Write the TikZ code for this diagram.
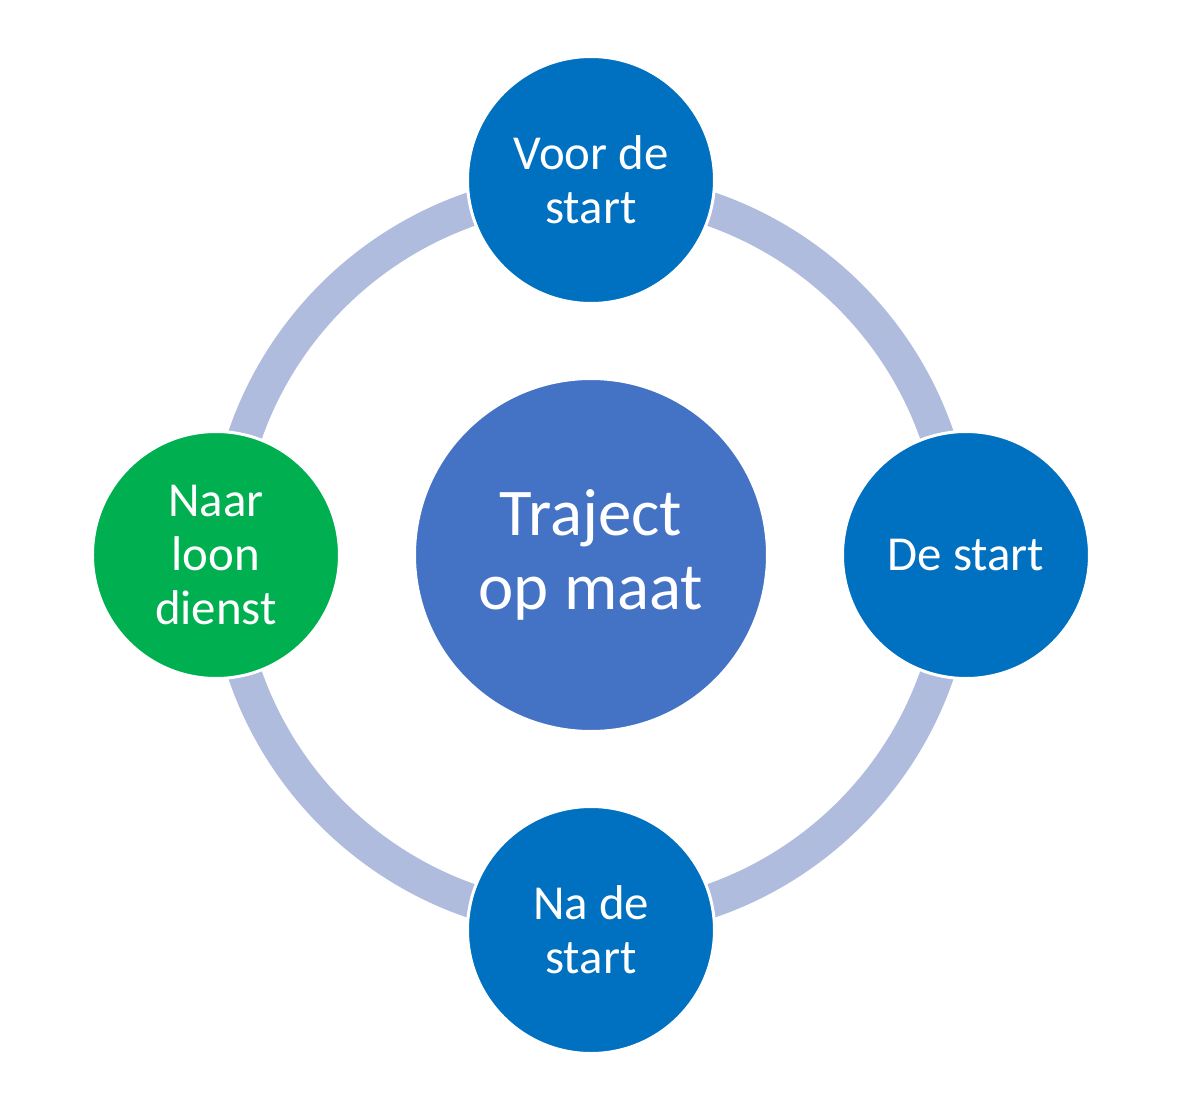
\documentclass[tikz,border=0pt]{standalone}
\usepackage{fontspec}
\setmainfont{Carlito}
\usepackage{tikz}
\definecolor{PhaseBlue}{HTML}{0070C0}
\definecolor{HubBlue}{HTML}{4472C4}
\definecolor{PhaseGreen}{HTML}{00B050}
\definecolor{RingBlue}{HTML}{B0BCDE}
\tikzset{
  ring/.style={draw=RingBlue, line width=0.68cm},
  phase/.style={circle, fill=PhaseBlue, draw=white, line width=0.06cm, minimum size=4.94cm, inner sep=0pt,
    text=white, align=center, font=\fontsize{27.8}{30.6}\selectfont},
  done/.style={phase, fill=PhaseGreen},
  hub/.style={circle, fill=HubBlue, draw=white, line width=0.06cm, minimum size=7.06cm, inner sep=0pt,
    text=white, align=center, font=\fontsize{38}{42}\selectfont}
}

\begin{document}
\begin{tikzpicture}
  \useasboundingbox (-11.82,-10.94) rectangle (12.24,11.1);
  \coordinate (mid) at (0,0);
  \draw[ring] (mid) circle (7.32);
  \node[hub] (traject) at (mid) {Traject\\op maat};
  \node[phase] (voor) at (0,7.5) {Voor de\\start};
  \node[phase] (start) at (7.5,0) {De start};
  \node[phase] (na) at (0,-7.5) {Na de\\start};
  \node[done] (loon) at (-7.5,0) {Naar\\loon\\dienst};
\end{tikzpicture}
\end{document}
